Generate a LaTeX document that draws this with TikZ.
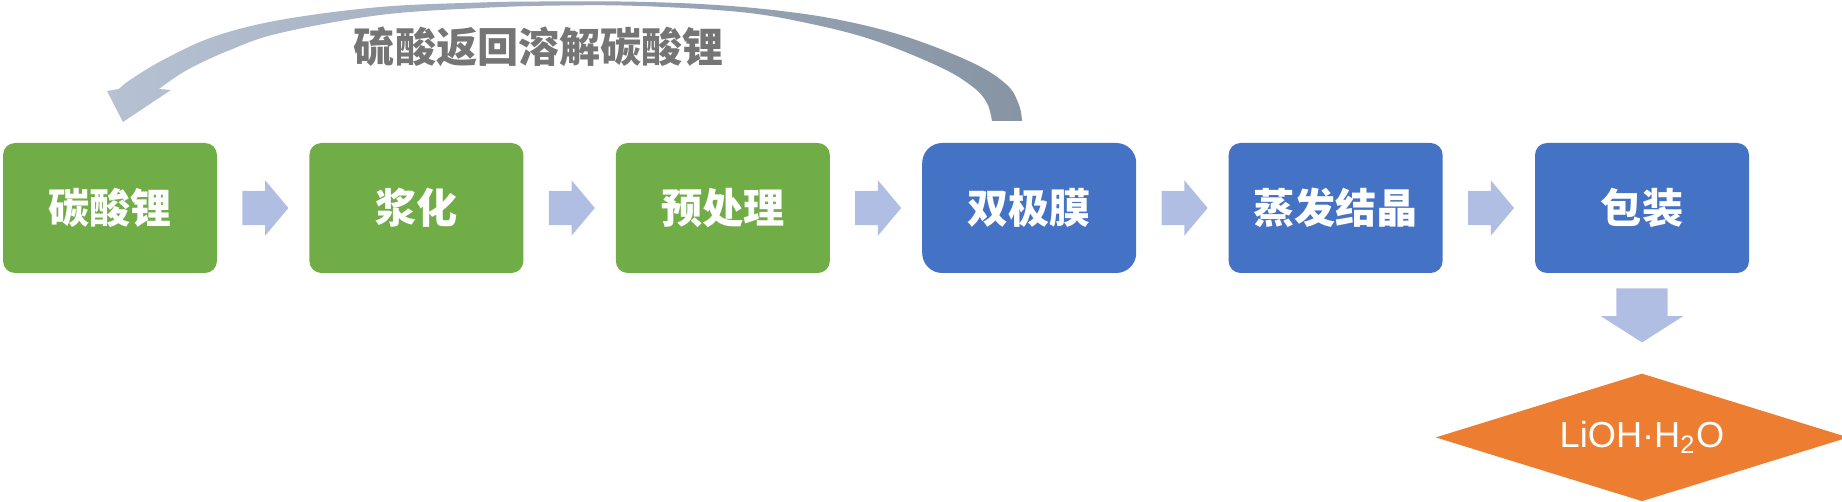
\documentclass[tikz,border=0pt]{standalone}
\usepackage{fontspec}
\setmainfont{Liberation Sans}
\newfontfamily\cjk{Noto Sans CJK SC}
\usetikzlibrary{positioning,shapes.arrows,shapes.geometric}
\definecolor{stepgreen}{HTML}{70AD47}
\definecolor{stepblue}{HTML}{4472C4}
\definecolor{prodorange}{HTML}{ED7D31}
\definecolor{flowblue}{HTML}{B0BEE3}
\definecolor{backlight}{HTML}{B6C2D3}
\definecolor{backdark}{HTML}{8794A4}
\definecolor{backtext}{HTML}{757575}

\begin{document}
\begin{tikzpicture}[x=0.1mm,y=-0.1mm,
	box/.style={rectangle, rounded corners=1.2mm, minimum width=21.4mm, minimum height=13mm, inner sep=0pt, text=white, font=\cjk\bfseries\fontsize{11.7}{14}\selectfont},
	greenbox/.style={box, fill=stepgreen},
	bluebox/.style={box, fill=stepblue},
	flow/.style={single arrow, fill=flowblue, minimum height=4.6mm, inner xsep=0pt, inner ysep=1.65mm, single arrow head extend=1.05mm, single arrow tip angle=100},
	downflow/.style={flow, rotate=-90, minimum height=5.4mm, inner ysep=2.5mm, single arrow head extend=1.55mm, single arrow tip angle=115},
	product/.style={diamond, aspect=3.2, fill=prodorange, minimum width=41.3mm, minimum height=12.8mm, inner sep=0pt, text=white, font=\fontsize{10.3}{12}\selectfont},
	node distance=9.1mm]
	\useasboundingbox (0,0) rectangle (1842,502);
	
	%Nodes
	\node[greenbox]	(lc)	at (110,208) {碳酸锂};
	\node[greenbox]	(jh)	[right=of lc] {浆化};
	\node[greenbox]	(ycl)	[right=of jh] {预处理};
	\node[bluebox, rounded corners=2mm]	(sjm)	[right=of ycl] {双极膜};
	\node[bluebox]	(zfjj)	[right=of sjm] {蒸发结晶};
	\node[bluebox]	(bz)	[right=of zfjj] {包装};
	\node[product]	(lioh)	[below=9.9mm of bz] {LiOH·H\textsubscript{2}O};
	\node[font=\cjk\bfseries\fontsize{11.7}{14}\selectfont, text=backtext]	(back)	at (539,47) {硫酸返回溶解碳酸锂};
	
	%Arrows
	\node[flow]	(f1)	[right=2.4mm of lc, anchor=tail] {};
	\node[flow]	(f2)	[right=2.4mm of jh, anchor=tail] {};
	\node[flow]	(f3)	[right=2.4mm of ycl, anchor=tail] {};
	\node[flow]	(f4)	[right=2.4mm of sjm, anchor=tail] {};
	\node[flow]	(f5)	[right=2.4mm of zfjj, anchor=tail] {};
	\node[downflow]	(f6)	[below=1.4mm of bz, anchor=tail] {};
	
	%Return arrow
	\shade[left color=backlight, right color=backdark] plot[smooth, tension=0.6] coordinates {(1022,121) (1019,105) (1007,85) (973,63) (907,37) (840,20) (773,10) (700,4) (620,1.5) (540,1.5) (480,2.5) (380,7) (280,20) (213,37) (163,60) (130,80) (119,89)} -- (107,91) -- (123,122) -- (171,90) -- (159,89) -- plot[smooth, tension=0.6] coordinates {(159,89) (187,70) (230,50) (280,33) (380,15) (480,8) (560,5.5) (640,6) (740,12) (807,23) (873,40) (940,67) (973,87) (987,103) (992,121)} -- cycle;
\end{tikzpicture}
\end{document}
